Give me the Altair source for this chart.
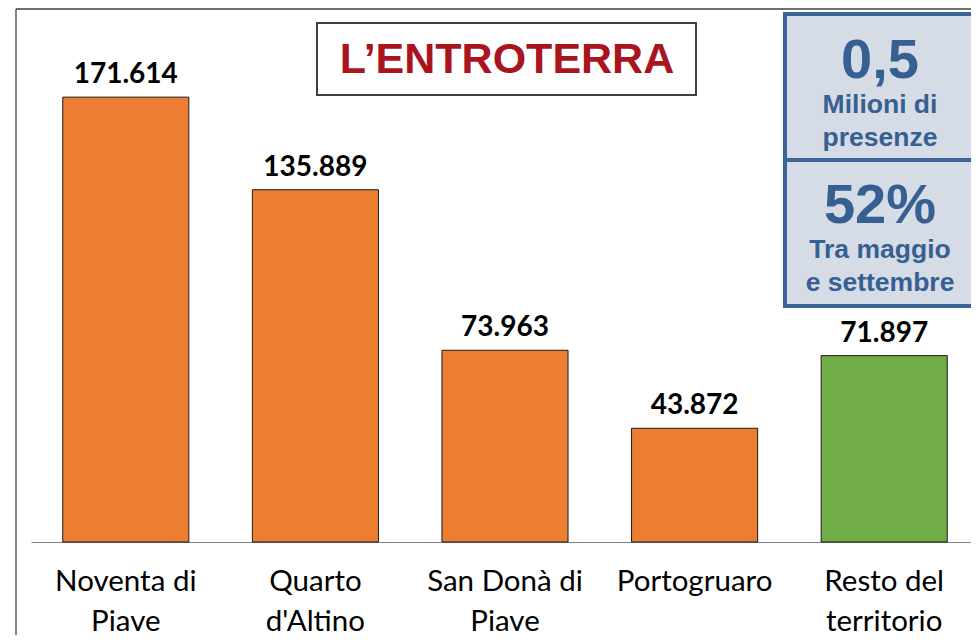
import altair as alt
import pandas as pd

categorie = ["Noventa di|Piave", "Quarto|d'Altino", "San Donà di|Piave", "Portogruaro", "Resto del|territorio"]
presenze = [171614, 135889, 73963, 43872, 71897]
gruppo = ["comune", "comune", "comune", "comune", "resto"]

titolo = "L’ENTROTERRA"
stat1_valore = "0,5"
stat1_righe = ["Milioni di", "presenze"]
stat2_valore = "52%"
stat2_righe = ["Tra maggio", "e settembre"]

df = pd.DataFrame({"categoria": categorie, "presenze": presenze, "gruppo": gruppo})
one = pd.DataFrame({"k": [0]})

W, H = 948, 534
BLUE = "#376092"
BLUE_STROKE = "#3B6497"
FILL = "#D6DCE5"

x = alt.X(
    "categoria:N",
    sort=None,
    scale=alt.Scale(paddingInner=0.335, paddingOuter=0.1675),
    axis=alt.Axis(
        title=None,
        labelAngle=0,
        labelExpr="split(datum.label, '|')",
        labelFont="Lato",
        labelFontSize=29.5,
        labelLineHeight=40,
        labelColor="#000000",
        labelPadding=25,
        ticks=False,
        domainColor="#808080",
        domainWidth=1.2,
        grid=False,
    ),
)
y = alt.Y("presenze:Q", scale=alt.Scale(domain=[0, 206000]), axis=None)

bars = alt.Chart(df).mark_bar(stroke="#1a1a1a", strokeWidth=1).encode(
    x=x,
    y=y,
    color=alt.Color(
        "gruppo:N",
        scale=alt.Scale(domain=["comune", "resto"], range=["#ED7D31", "#70AD47"]),
        legend=None,
    ),
)

labels = (
    alt.Chart(df)
    .transform_calculate(lab="replace(format(datum.presenze, ','), ',', '.')")
    .mark_text(dy=-14, baseline="alphabetic", font="Lato", fontSize=28, fontWeight="bold", color="#000000")
    .encode(x=x, y=y, text="lab:N")
)

frame_v = alt.Chart(one).mark_rule(color="#404040", strokeWidth=1.3).encode(
    x=alt.value(-15), y=alt.value(1), y2=alt.value(640)
)
frame_h = alt.Chart(one).mark_rule(color="#404040", strokeWidth=1.3).encode(
    x=alt.value(-15), x2=alt.value(960), y=alt.value(1)
)

title_box = alt.Chart(one).mark_rect(fill="white", stroke="#404040", strokeWidth=2).encode(
    x=alt.value(286), x2=alt.value(665), y=alt.value(15), y2=alt.value(87)
)
title_text = alt.Chart(one).mark_text(
    text=titolo, font="Liberation Sans", fontSize=43, fontWeight="bold", color="#A9141F",
    baseline="alphabetic", align="center"
).encode(x=alt.value(476), y=alt.value(65))

box1 = alt.Chart(one).mark_rect(fill=FILL, stroke=BLUE_STROKE, strokeWidth=4).encode(
    x=alt.value(754), x2=alt.value(944), y=alt.value(6), y2=alt.value(152)
)
box2 = alt.Chart(one).mark_rect(fill=FILL, stroke=BLUE_STROKE, strokeWidth=4).encode(
    x=alt.value(754), x2=alt.value(944), y=alt.value(152), y2=alt.value(298)
)

def stat_text(t, size, ypos):
    return alt.Chart(one).mark_text(
        text=t, font="Liberation Sans", fontSize=size, fontWeight="bold", color=BLUE,
        baseline="alphabetic", align="center"
    ).encode(x=alt.value(849), y=alt.value(ypos))

texts = [
    stat_text(stat1_valore, 56, 70),
    stat_text(stat1_righe[0], 26.5, 105),
    stat_text(stat1_righe[1], 26.5, 138),
    stat_text(stat2_valore, 56, 215),
    stat_text(stat2_righe[0], 26.5, 250),
    stat_text(stat2_righe[1], 26.5, 283),
]

chart = alt.layer(
    frame_v, frame_h, bars, labels, title_box, title_text, box1, box2, *texts
).properties(
    width=W,
    height=H,
    autosize=alt.AutoSizeParams(type="none"),
    padding={"left": 23, "top": 0, "right": -8, "bottom": 93},
).configure_view(stroke=None)

chart.save("out.html", embed_options={"renderer": "svg", "actions": False})
